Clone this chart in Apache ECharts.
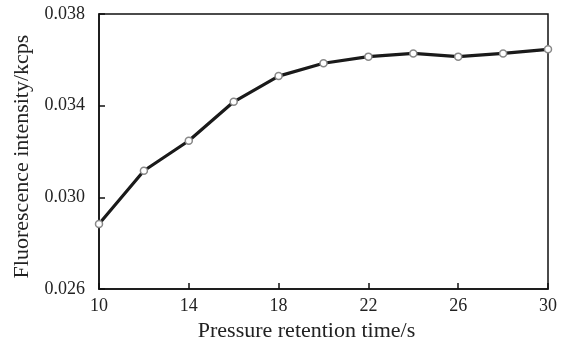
<!DOCTYPE html>
<html>
<head>
<meta charset="utf-8">
<script src="https://cdn.jsdelivr.net/npm/echarts@6/dist/echarts.min.js"></script>
<style>
  html, body { margin: 0; padding: 0; background: #fff; }
  #chart { width: 564px; height: 338px; }
</style>
</head>
<body>
<div id="chart"></div>
<script>
var times = [10, 12, 14, 16, 18, 20, 22, 24, 26, 28, 30];
var intensity = [0.02884, 0.03116, 0.03247, 0.03417, 0.03529, 0.03585, 0.03614, 0.03628, 0.03614, 0.03628, 0.03646];

var font = 'Liberation Serif';
var textColor = '#222';

var chart = echarts.init(document.getElementById('chart'));

var points = times.map(function (t, i) { return [t, intensity[i]]; });

chart.setOption({
  animation: false,
  grid: {
    left: 99, right: 16, top: 14, bottom: 49,
    outerBoundsMode: 'none',
    show: true, borderColor: '#111', borderWidth: 1.5
  },
  xAxis: {
    type: 'value',
    min: 10, max: 30, interval: 4,
    name: 'Pressure retention time/s',
    nameLocation: 'middle',
    nameGap: 25,
    nameTextStyle: { fontFamily: font, fontSize: 22, color: textColor, padding: [0, 34, 0, 0] },
    axisLine: { lineStyle: { color: '#111', width: 1.5 } },
    axisTick: { inside: true, length: 6, lineStyle: { color: '#111', width: 1.5 } },
    axisLabel: { fontFamily: font, fontSize: 18, color: textColor, margin: 8 },
    splitLine: { show: false }
  },
  yAxis: {
    type: 'value',
    min: 0.026, max: 0.038, interval: 0.004,
    name: 'Fluorescence intensity/kcps',
    nameLocation: 'middle',
    nameGap: 52,
    nameTextStyle: { fontFamily: font, fontSize: 22, color: textColor, padding: [0, 10, 0, 0] },
    axisLine: { lineStyle: { color: '#111', width: 1.5 } },
    axisTick: { inside: true, length: 6, lineStyle: { color: '#111', width: 1.5 } },
    axisLabel: {
      fontFamily: font, fontSize: 18, color: textColor, margin: 14,
      formatter: function (v) { return v.toFixed(3); }
    },
    splitLine: { show: false }
  },
  series: [{
    type: 'line',
    data: points,
    symbol: 'circle',
    symbolSize: 7,
    itemStyle: { color: '#fff', borderColor: '#888', borderWidth: 1.5 },
    lineStyle: { color: '#1a1a1a', width: 3.2 }
  }]
});
</script>
</body>
</html>
